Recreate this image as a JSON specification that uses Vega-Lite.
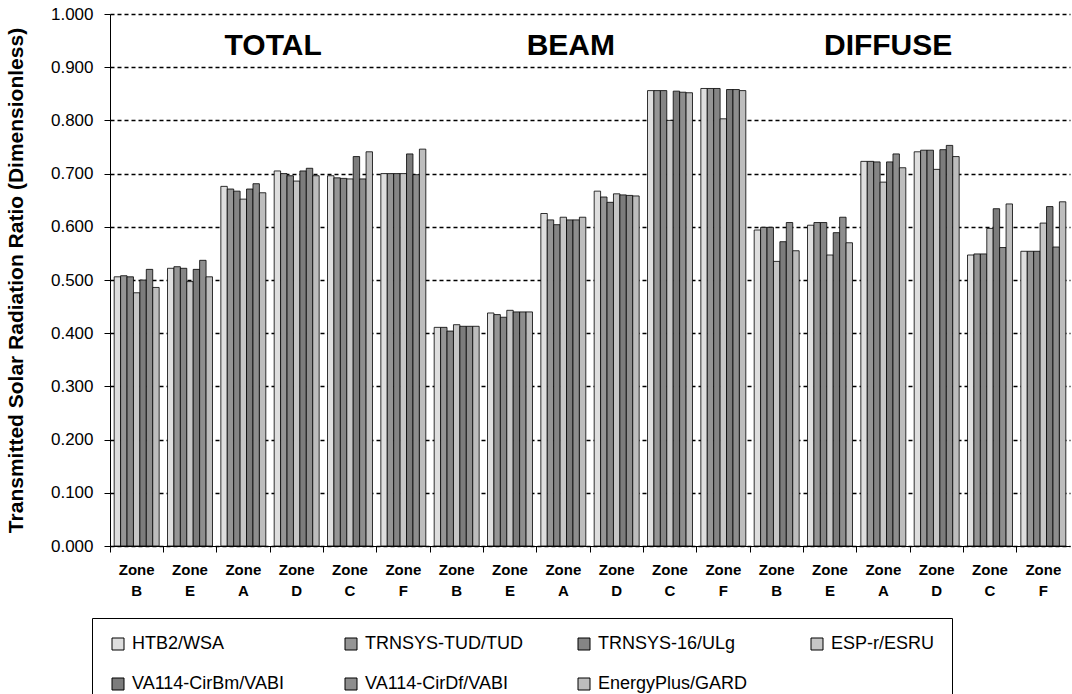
{
  "$schema": "https://vega.github.io/schema/vega-lite/v6.json",
  "autosize": {"type": "none"},
  "padding": {"left": 110, "top": 14, "right": 2, "bottom": 148},
  "width": 960,
  "height": 532,
  "config": {"view": {"stroke": null}, "font": "Liberation Sans"},
  "datasets": {
    "bars": [
      {"group": "TOTAL|B", "program": "HTB2/WSA", "ratio": 0.506},
      {"group": "TOTAL|B", "program": "TRNSYS-TUD/TUD", "ratio": 0.508},
      {"group": "TOTAL|B", "program": "TRNSYS-16/ULg", "ratio": 0.506},
      {"group": "TOTAL|B", "program": "ESP-r/ESRU", "ratio": 0.476},
      {"group": "TOTAL|B", "program": "VA114-CirBm/VABI", "ratio": 0.500},
      {"group": "TOTAL|B", "program": "VA114-CirDf/VABI", "ratio": 0.520},
      {"group": "TOTAL|B", "program": "EnergyPlus/GARD", "ratio": 0.486},
      {"group": "TOTAL|E", "program": "HTB2/WSA", "ratio": 0.522},
      {"group": "TOTAL|E", "program": "TRNSYS-TUD/TUD", "ratio": 0.525},
      {"group": "TOTAL|E", "program": "TRNSYS-16/ULg", "ratio": 0.522},
      {"group": "TOTAL|E", "program": "ESP-r/ESRU", "ratio": 0.497},
      {"group": "TOTAL|E", "program": "VA114-CirBm/VABI", "ratio": 0.520},
      {"group": "TOTAL|E", "program": "VA114-CirDf/VABI", "ratio": 0.537},
      {"group": "TOTAL|E", "program": "EnergyPlus/GARD", "ratio": 0.506},
      {"group": "TOTAL|A", "program": "HTB2/WSA", "ratio": 0.676},
      {"group": "TOTAL|A", "program": "TRNSYS-TUD/TUD", "ratio": 0.671},
      {"group": "TOTAL|A", "program": "TRNSYS-16/ULg", "ratio": 0.667},
      {"group": "TOTAL|A", "program": "ESP-r/ESRU", "ratio": 0.652},
      {"group": "TOTAL|A", "program": "VA114-CirBm/VABI", "ratio": 0.671},
      {"group": "TOTAL|A", "program": "VA114-CirDf/VABI", "ratio": 0.681},
      {"group": "TOTAL|A", "program": "EnergyPlus/GARD", "ratio": 0.664},
      {"group": "TOTAL|D", "program": "HTB2/WSA", "ratio": 0.705},
      {"group": "TOTAL|D", "program": "TRNSYS-TUD/TUD", "ratio": 0.700},
      {"group": "TOTAL|D", "program": "TRNSYS-16/ULg", "ratio": 0.696},
      {"group": "TOTAL|D", "program": "ESP-r/ESRU", "ratio": 0.686},
      {"group": "TOTAL|D", "program": "VA114-CirBm/VABI", "ratio": 0.705},
      {"group": "TOTAL|D", "program": "VA114-CirDf/VABI", "ratio": 0.710},
      {"group": "TOTAL|D", "program": "EnergyPlus/GARD", "ratio": 0.696},
      {"group": "TOTAL|C", "program": "HTB2/WSA", "ratio": 0.696},
      {"group": "TOTAL|C", "program": "TRNSYS-TUD/TUD", "ratio": 0.692},
      {"group": "TOTAL|C", "program": "TRNSYS-16/ULg", "ratio": 0.691},
      {"group": "TOTAL|C", "program": "ESP-r/ESRU", "ratio": 0.690},
      {"group": "TOTAL|C", "program": "VA114-CirBm/VABI", "ratio": 0.732},
      {"group": "TOTAL|C", "program": "VA114-CirDf/VABI", "ratio": 0.690},
      {"group": "TOTAL|C", "program": "EnergyPlus/GARD", "ratio": 0.741},
      {"group": "TOTAL|F", "program": "HTB2/WSA", "ratio": 0.700},
      {"group": "TOTAL|F", "program": "TRNSYS-TUD/TUD", "ratio": 0.700},
      {"group": "TOTAL|F", "program": "TRNSYS-16/ULg", "ratio": 0.700},
      {"group": "TOTAL|F", "program": "ESP-r/ESRU", "ratio": 0.700},
      {"group": "TOTAL|F", "program": "VA114-CirBm/VABI", "ratio": 0.737},
      {"group": "TOTAL|F", "program": "VA114-CirDf/VABI", "ratio": 0.698},
      {"group": "TOTAL|F", "program": "EnergyPlus/GARD", "ratio": 0.746},
      {"group": "BEAM|B", "program": "HTB2/WSA", "ratio": 0.411},
      {"group": "BEAM|B", "program": "TRNSYS-TUD/TUD", "ratio": 0.411},
      {"group": "BEAM|B", "program": "TRNSYS-16/ULg", "ratio": 0.404},
      {"group": "BEAM|B", "program": "ESP-r/ESRU", "ratio": 0.416},
      {"group": "BEAM|B", "program": "VA114-CirBm/VABI", "ratio": 0.413},
      {"group": "BEAM|B", "program": "VA114-CirDf/VABI", "ratio": 0.413},
      {"group": "BEAM|B", "program": "EnergyPlus/GARD", "ratio": 0.413},
      {"group": "BEAM|E", "program": "HTB2/WSA", "ratio": 0.438},
      {"group": "BEAM|E", "program": "TRNSYS-TUD/TUD", "ratio": 0.435},
      {"group": "BEAM|E", "program": "TRNSYS-16/ULg", "ratio": 0.430},
      {"group": "BEAM|E", "program": "ESP-r/ESRU", "ratio": 0.443},
      {"group": "BEAM|E", "program": "VA114-CirBm/VABI", "ratio": 0.440},
      {"group": "BEAM|E", "program": "VA114-CirDf/VABI", "ratio": 0.440},
      {"group": "BEAM|E", "program": "EnergyPlus/GARD", "ratio": 0.440},
      {"group": "BEAM|A", "program": "HTB2/WSA", "ratio": 0.625},
      {"group": "BEAM|A", "program": "TRNSYS-TUD/TUD", "ratio": 0.613},
      {"group": "BEAM|A", "program": "TRNSYS-16/ULg", "ratio": 0.604},
      {"group": "BEAM|A", "program": "ESP-r/ESRU", "ratio": 0.618},
      {"group": "BEAM|A", "program": "VA114-CirBm/VABI", "ratio": 0.613},
      {"group": "BEAM|A", "program": "VA114-CirDf/VABI", "ratio": 0.613},
      {"group": "BEAM|A", "program": "EnergyPlus/GARD", "ratio": 0.618},
      {"group": "BEAM|D", "program": "HTB2/WSA", "ratio": 0.667},
      {"group": "BEAM|D", "program": "TRNSYS-TUD/TUD", "ratio": 0.656},
      {"group": "BEAM|D", "program": "TRNSYS-16/ULg", "ratio": 0.646},
      {"group": "BEAM|D", "program": "ESP-r/ESRU", "ratio": 0.662},
      {"group": "BEAM|D", "program": "VA114-CirBm/VABI", "ratio": 0.660},
      {"group": "BEAM|D", "program": "VA114-CirDf/VABI", "ratio": 0.659},
      {"group": "BEAM|D", "program": "EnergyPlus/GARD", "ratio": 0.658},
      {"group": "BEAM|C", "program": "HTB2/WSA", "ratio": 0.856},
      {"group": "BEAM|C", "program": "TRNSYS-TUD/TUD", "ratio": 0.856},
      {"group": "BEAM|C", "program": "TRNSYS-16/ULg", "ratio": 0.856},
      {"group": "BEAM|C", "program": "ESP-r/ESRU", "ratio": 0.800},
      {"group": "BEAM|C", "program": "VA114-CirBm/VABI", "ratio": 0.855},
      {"group": "BEAM|C", "program": "VA114-CirDf/VABI", "ratio": 0.853},
      {"group": "BEAM|C", "program": "EnergyPlus/GARD", "ratio": 0.852},
      {"group": "BEAM|F", "program": "HTB2/WSA", "ratio": 0.860},
      {"group": "BEAM|F", "program": "TRNSYS-TUD/TUD", "ratio": 0.860},
      {"group": "BEAM|F", "program": "TRNSYS-16/ULg", "ratio": 0.860},
      {"group": "BEAM|F", "program": "ESP-r/ESRU", "ratio": 0.803},
      {"group": "BEAM|F", "program": "VA114-CirBm/VABI", "ratio": 0.858},
      {"group": "BEAM|F", "program": "VA114-CirDf/VABI", "ratio": 0.858},
      {"group": "BEAM|F", "program": "EnergyPlus/GARD", "ratio": 0.856},
      {"group": "DIFFUSE|B", "program": "HTB2/WSA", "ratio": 0.594},
      {"group": "DIFFUSE|B", "program": "TRNSYS-TUD/TUD", "ratio": 0.599},
      {"group": "DIFFUSE|B", "program": "TRNSYS-16/ULg", "ratio": 0.599},
      {"group": "DIFFUSE|B", "program": "ESP-r/ESRU", "ratio": 0.535},
      {"group": "DIFFUSE|B", "program": "VA114-CirBm/VABI", "ratio": 0.572},
      {"group": "DIFFUSE|B", "program": "VA114-CirDf/VABI", "ratio": 0.608},
      {"group": "DIFFUSE|B", "program": "EnergyPlus/GARD", "ratio": 0.555},
      {"group": "DIFFUSE|E", "program": "HTB2/WSA", "ratio": 0.603},
      {"group": "DIFFUSE|E", "program": "TRNSYS-TUD/TUD", "ratio": 0.608},
      {"group": "DIFFUSE|E", "program": "TRNSYS-16/ULg", "ratio": 0.608},
      {"group": "DIFFUSE|E", "program": "ESP-r/ESRU", "ratio": 0.547},
      {"group": "DIFFUSE|E", "program": "VA114-CirBm/VABI", "ratio": 0.589},
      {"group": "DIFFUSE|E", "program": "VA114-CirDf/VABI", "ratio": 0.618},
      {"group": "DIFFUSE|E", "program": "EnergyPlus/GARD", "ratio": 0.570},
      {"group": "DIFFUSE|A", "program": "HTB2/WSA", "ratio": 0.723},
      {"group": "DIFFUSE|A", "program": "TRNSYS-TUD/TUD", "ratio": 0.723},
      {"group": "DIFFUSE|A", "program": "TRNSYS-16/ULg", "ratio": 0.722},
      {"group": "DIFFUSE|A", "program": "ESP-r/ESRU", "ratio": 0.684},
      {"group": "DIFFUSE|A", "program": "VA114-CirBm/VABI", "ratio": 0.722},
      {"group": "DIFFUSE|A", "program": "VA114-CirDf/VABI", "ratio": 0.737},
      {"group": "DIFFUSE|A", "program": "EnergyPlus/GARD", "ratio": 0.711},
      {"group": "DIFFUSE|D", "program": "HTB2/WSA", "ratio": 0.741},
      {"group": "DIFFUSE|D", "program": "TRNSYS-TUD/TUD", "ratio": 0.744},
      {"group": "DIFFUSE|D", "program": "TRNSYS-16/ULg", "ratio": 0.744},
      {"group": "DIFFUSE|D", "program": "ESP-r/ESRU", "ratio": 0.708},
      {"group": "DIFFUSE|D", "program": "VA114-CirBm/VABI", "ratio": 0.745},
      {"group": "DIFFUSE|D", "program": "VA114-CirDf/VABI", "ratio": 0.753},
      {"group": "DIFFUSE|D", "program": "EnergyPlus/GARD", "ratio": 0.732},
      {"group": "DIFFUSE|C", "program": "HTB2/WSA", "ratio": 0.547},
      {"group": "DIFFUSE|C", "program": "TRNSYS-TUD/TUD", "ratio": 0.549},
      {"group": "DIFFUSE|C", "program": "TRNSYS-16/ULg", "ratio": 0.549},
      {"group": "DIFFUSE|C", "program": "ESP-r/ESRU", "ratio": 0.597},
      {"group": "DIFFUSE|C", "program": "VA114-CirBm/VABI", "ratio": 0.634},
      {"group": "DIFFUSE|C", "program": "VA114-CirDf/VABI", "ratio": 0.561},
      {"group": "DIFFUSE|C", "program": "EnergyPlus/GARD", "ratio": 0.643},
      {"group": "DIFFUSE|F", "program": "HTB2/WSA", "ratio": 0.554},
      {"group": "DIFFUSE|F", "program": "TRNSYS-TUD/TUD", "ratio": 0.554},
      {"group": "DIFFUSE|F", "program": "TRNSYS-16/ULg", "ratio": 0.554},
      {"group": "DIFFUSE|F", "program": "ESP-r/ESRU", "ratio": 0.607},
      {"group": "DIFFUSE|F", "program": "VA114-CirBm/VABI", "ratio": 0.638},
      {"group": "DIFFUSE|F", "program": "VA114-CirDf/VABI", "ratio": 0.562},
      {"group": "DIFFUSE|F", "program": "EnergyPlus/GARD", "ratio": 0.647}
    ]
  },
  "layer": [
    {
      "data": {"name": "bars"},
      "mark": {"type": "bar", "stroke": "black", "strokeWidth": 0.8, "opacity": 1},
      "encoding": {
        "x": {
          "field": "group", "type": "nominal",
          "scale": {
            "domain": ["TOTAL|B","TOTAL|E","TOTAL|A","TOTAL|D","TOTAL|C","TOTAL|F","BEAM|B","BEAM|E","BEAM|A","BEAM|D","BEAM|C","BEAM|F","DIFFUSE|B","DIFFUSE|E","DIFFUSE|A","DIFFUSE|D","DIFFUSE|C","DIFFUSE|F"],
            "paddingInner": 0, "paddingOuter": 0
          },
          "axis": {
            "title": null, "bandPosition": 0, "labelAngle": 0,
            "labelExpr": "['Zone', slice(datum.value, -1)]",
            "labelFont": "Liberation Sans", "labelFontSize": 15, "labelFontWeight": "bold", "labelColor": "black",
            "labelLineHeight": 21, "labelBaseline": "top", "labelPadding": 10,
            "tickSize": 6, "tickColor": "black", "domainColor": "black", "grid": false
          }
        },
        "xOffset": {
          "field": "program", "type": "nominal",
          "scale": {
            "domain": ["HTB2/WSA","TRNSYS-TUD/TUD","TRNSYS-16/ULg","ESP-r/ESRU","VA114-CirBm/VABI","VA114-CirDf/VABI","EnergyPlus/GARD"],
            "paddingInner": 0, "paddingOuter": 0.65
          }
        },
        "y": {
          "field": "ratio", "type": "quantitative",
          "scale": {"domain": [0, 1]},
          "axis": {
            "title": "Transmitted Solar Radiation Ratio (Dimensionless)",
            "titleFont": "Liberation Sans", "titleFontSize": 21, "titleFontWeight": "bold", "titleColor": "black", "titlePadding": 24,
            "format": ".3f", "values": [0, 0.1, 0.2, 0.3, 0.4, 0.5, 0.6, 0.7, 0.8, 0.9, 1.0],
            "labelFont": "Liberation Sans", "labelFontSize": 17, "labelColor": "black", "labelPadding": 11,
            "tickSize": 6, "tickColor": "black", "domainColor": "black",
            "grid": true, "gridColor": "black", "gridDash": [4, 3], "gridWidth": 1.4, "gridOpacity": 1
          }
        },
        "color": {
          "field": "program", "type": "nominal",
          "scale": {
            "domain": ["HTB2/WSA","TRNSYS-TUD/TUD","TRNSYS-16/ULg","ESP-r/ESRU","VA114-CirBm/VABI","VA114-CirDf/VABI","EnergyPlus/GARD"],
            "range": ["#dedede","#959595","#858585","#c6c6c6","#7c7c7c","#8e8e8e","#bdbdbd"]
          },
          "legend": {
            "title": null, "orient": "none", "legendX": -18, "legendY": 604,
            "direction": "horizontal", "columns": 4, "gridAlign": "all",
            "labelFont": "Liberation Sans", "labelFontSize": 18, "labelColor": "black", "labelLimit": 300, "labelOffset": 5,
            "symbolType": "square", "symbolSize": 144, "symbolStrokeColor": "black", "symbolStrokeWidth": 1, "symbolOpacity": 1,
            "strokeColor": "black", "fillColor": "white", "padding": 17, "rowPadding": 22, "columnPadding": 52
          }
        }
      }
    },
    {
      "data": {"values": [{"group": "TOTAL|D", "label": "TOTAL", "ratio": 0.94}]},
      "mark": {"type": "text", "font": "Liberation Sans", "fontSize": 30, "fontWeight": "bold", "align": "center", "baseline": "middle", "color": "black"},
      "encoding": {
        "x": {"field": "group", "type": "nominal", "bandPosition": 0.06},
        "y": {"field": "ratio", "type": "quantitative"},
        "text": {"field": "label"}
      }
    },
    {
      "data": {"values": [{"group": "BEAM|A", "label": "BEAM", "ratio": 0.94}]},
      "mark": {"type": "text", "font": "Liberation Sans", "fontSize": 30, "fontWeight": "bold", "align": "center", "baseline": "middle", "color": "black"},
      "encoding": {
        "x": {"field": "group", "type": "nominal", "bandPosition": 0.64},
        "y": {"field": "ratio", "type": "quantitative"},
        "text": {"field": "label"}
      }
    },
    {
      "data": {"values": [{"group": "DIFFUSE|A", "label": "DIFFUSE", "ratio": 0.94}]},
      "mark": {"type": "text", "font": "Liberation Sans", "fontSize": 30, "fontWeight": "bold", "align": "center", "baseline": "middle", "color": "black"},
      "encoding": {
        "x": {"field": "group", "type": "nominal", "bandPosition": 0.59},
        "y": {"field": "ratio", "type": "quantitative"},
        "text": {"field": "label"}
      }
    }
  ]
}
